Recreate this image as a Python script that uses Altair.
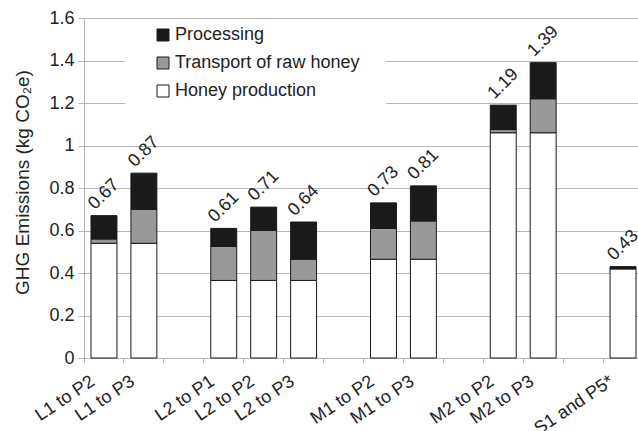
import altair as alt
import pandas as pd

# x slots, blank slots separate the producer groups
categories = ["L1 to P2", "L1 to P3", " ",
              "L2 to P1", "L2 to P2", "L2 to P3", "  ",
              "M1 to P2", "M1 to P3", "   ",
              "M2 to P2", "M2 to P3", "    ",
              "S1 and P5*"]

bar_names = ["L1 to P2", "L1 to P3", "L2 to P1", "L2 to P2", "L2 to P3",
             "M1 to P2", "M1 to P3", "M2 to P2", "M2 to P3", "S1 and P5*"]

# kg CO2e per stage
honey_production = [0.54, 0.54, 0.365, 0.365, 0.365, 0.465, 0.465, 1.06, 1.06, 0.42]
transport_raw_honey = [0.02, 0.16, 0.16, 0.235, 0.10, 0.145, 0.18, 0.015, 0.16, 0.0]
processing = [0.11, 0.17, 0.085, 0.11, 0.175, 0.12, 0.165, 0.115, 0.17, 0.01]

stages = ["Processing", "Transport of raw honey", "Honey production"]
stage_colors = ["#1a1a1a", "#999999", "#ffffff"]

y_ticks = [0, 0.2, 0.4, 0.6, 0.8, 1.0, 1.2, 1.4, 1.6]

rows = []
for i, name in enumerate(bar_names):
    for rank, (stage, vals) in enumerate([
        ("Honey production", honey_production),
        ("Transport of raw honey", transport_raw_honey),
        ("Processing", processing),
    ]):
        rows.append({"pathway": name, "stage": stage, "rank": rank, "value": vals[i]})
df = pd.DataFrame(rows)

FONT = "Arial"
TEXT = "#222222"
GRID = "#b8b8b8"

x_scale = alt.Scale(domain=categories, paddingInner=0, paddingOuter=0, range=[0, 559])

x_enc = alt.X(
    "pathway:N",
    sort=categories,
    scale=x_scale,
    axis=alt.Axis(
        title=None,
        bandPosition=0,
        labelOffset=-16,
        labelAngle=-34,
        labelAlign="right",
        labelBaseline="top",
        labelPadding=9,
        labelFontSize=18,
        labelFont=FONT,
        labelColor=TEXT,
        tickSize=5,
        tickColor=GRID,
        domainColor=GRID,
        grid=False,
        labelOverlap=False,
    ),
)

bars = alt.Chart(df).mark_bar(
    width=alt.RelativeBandSize(0.65), stroke="#1a1a1a", strokeWidth=1
).encode(
    x=x_enc,
    y=alt.Y(
        "value:Q",
        stack="zero",
        scale=alt.Scale(domain=[0, 1.6], nice=False),
        axis=alt.Axis(
            values=y_ticks,
            format="~g",
            title="GHG Emissions (kg CO₂e)",
            titleFontSize=19,
            titleFont=FONT,
            titleFontWeight="normal",
            titleColor=TEXT,
            titlePadding=16,
            titleY=164,
            labelFontSize=18,
            labelFont=FONT,
            labelColor=TEXT,
            labelPadding=4,
            tickSize=6,
            tickColor=GRID,
            domainColor=GRID,
            gridColor=GRID,
        ),
    ),
    color=alt.Color(
        "stage:N",
        scale=alt.Scale(domain=stages, range=stage_colors),
        legend=alt.Legend(
            orient="none",
            legendX=41,
            legendY=1,
            title=" ",
            titleOrient="right",
            titlePadding=20,
            fillColor="white",
            padding=7,
            symbolType="square",
            symbolSize=144,
            symbolOffset=22,
            symbolStrokeColor="#1a1a1a",
            symbolStrokeWidth=1,
            labelFontSize=18,
            labelFont=FONT,
            labelColor=TEXT,
            labelLimit=400,
            labelOffset=3,
            rowPadding=10,
        ),
    ),
    order=alt.Order("rank:Q", sort="ascending"),
)

totals = alt.Chart(df).transform_aggregate(
    total="sum(value)", groupby=["pathway"]
).mark_text(
    angle=315, align="center", baseline="middle", dx=15, dy=-15,
    fontSize=18, font=FONT, color=TEXT,
).encode(
    x=x_enc,
    y="total:Q",
    text=alt.Text("total:Q", format=".2f"),
)

chart = alt.layer(bars, totals).properties(
    width=554,
    height=340,
    autosize=alt.AutoSizeParams(type="none"),
    padding={"left": 84, "top": 18, "right": 0, "bottom": 73},
).configure_view(stroke=None).configure(background="white")

chart.save("out.html", embed_options={"renderer": "svg", "actions": False})
